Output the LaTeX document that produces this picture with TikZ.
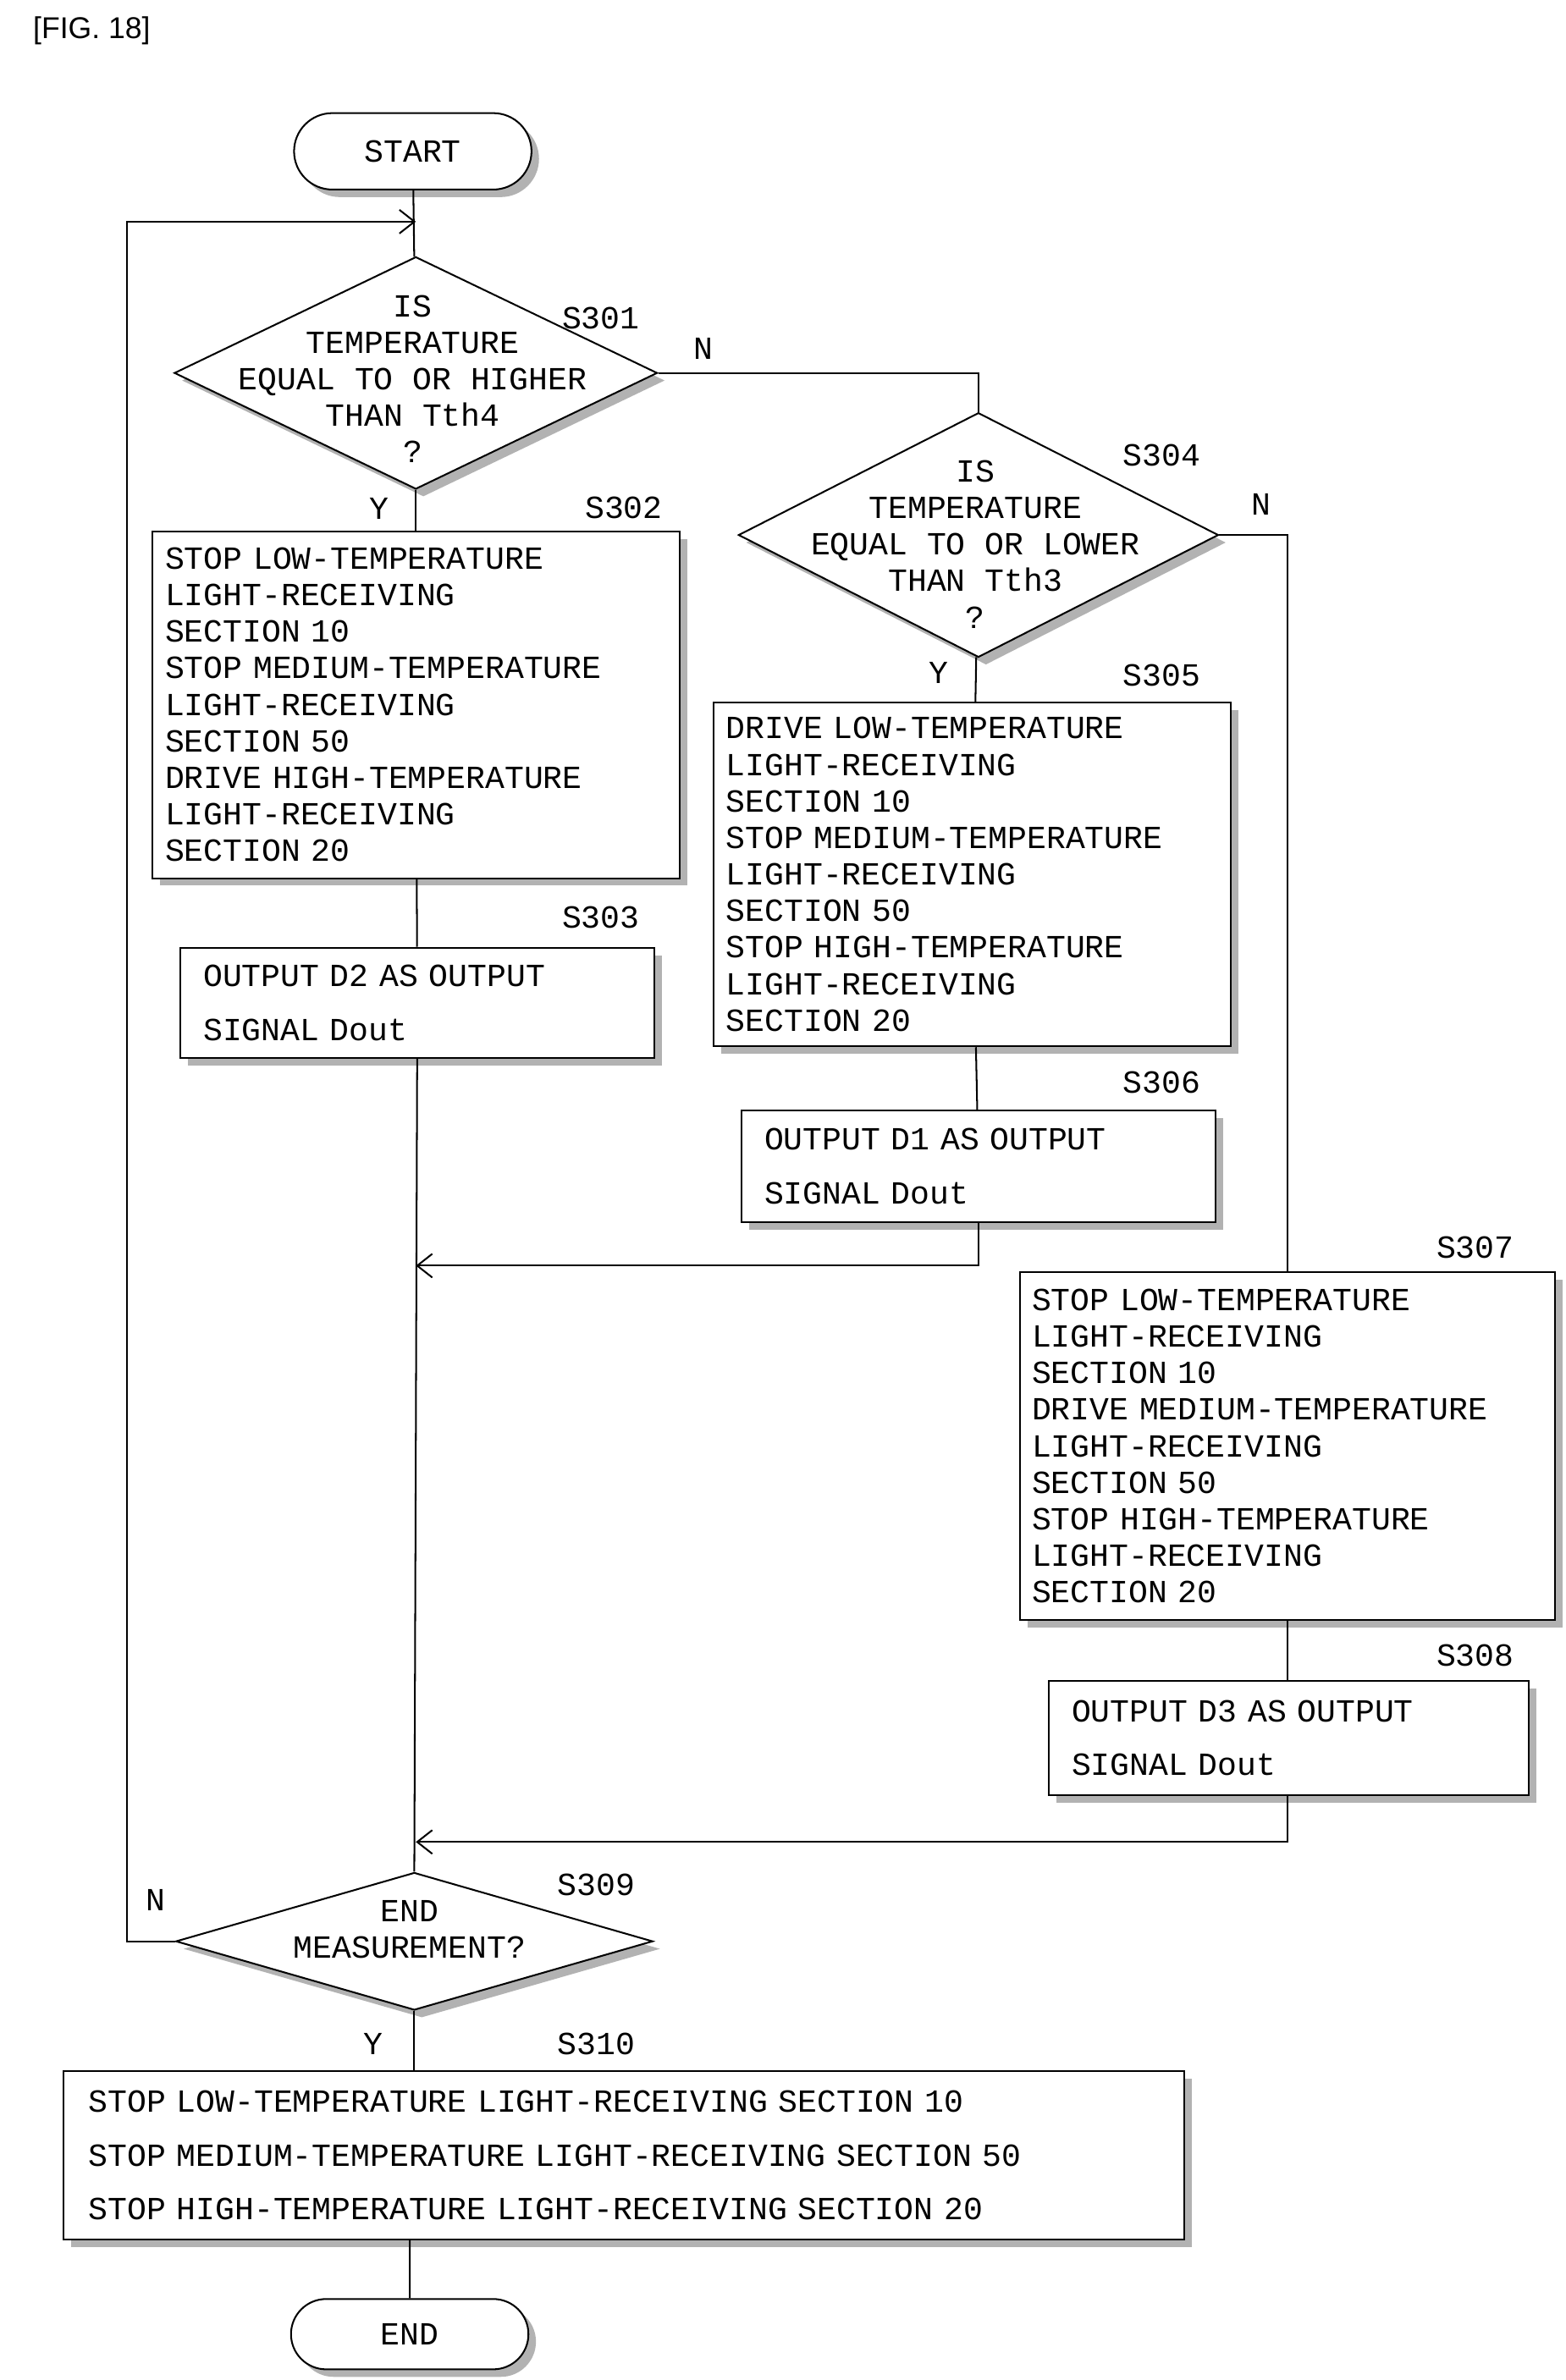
\documentclass[tikz,border=0pt]{standalone}
\usepackage{fontspec}
\setmainfont{Liberation Sans}
\setmonofont{Liberation Mono}
\usetikzlibrary{shapes.geometric,shapes.misc,arrows.meta,shadows}

\tikzset{
  flow/.style={draw,line width=1.6pt},
  box/.style={flow,fill=white,inner sep=8pt,align=left,
    font=\fontsize{30}{34}\selectfont\ttfamily,
    drop shadow={shadow xshift=7pt,shadow yshift=-7pt,fill=gray!60,opacity=1}},
  obox/.style={box,font=\fontsize{30}{50}\selectfont\ttfamily,inner sep=16pt},
  term/.style={flow,fill=white,rounded rectangle,font=\fontsize{30}{34}\selectfont\ttfamily,
    drop shadow={shadow xshift=7pt,shadow yshift=-7pt,fill=gray!60,opacity=1}},
  dec/.style={flow,fill=white,diamond,inner sep=0pt,
    drop shadow={shadow xshift=7pt,shadow yshift=-7pt,fill=gray!60,opacity=1}},
  dtext/.style={align=center,font=\fontsize{30}{34}\selectfont\ttfamily},
  stepno/.style={font=\fontsize{30}{34}\selectfont\ttfamily},
  arr/.style={flow,-{Straight Barb[length=14pt,width=22pt,line width=1.6pt]}}
}

\begin{document}
\begin{tikzpicture}[x=0.05cm,y=-0.05cm]
  \useasboundingbox (0,0) rectangle (1024,1557);
  \node[font=\fontsize{28}{30}\selectfont] at (60,20) {[FIG. 18]};

  % terminals, decisions and processes
  \node[term,minimum width=8cm,minimum height=2.5cm] (start) at (270,99) {START};
  \node[dec,minimum width=15.8cm,minimum height=7.6cm] (s301) at (272,244) {};
  \node[dtext] at (270,248) {IS\\TEMPERATURE\\EQUAL TO OR HIGHER\\THAN Tth4\\?};
  \node[box,minimum width=17.25cm,minimum height=11.35cm,text width=16.4cm] (s302) at (272,461)
    {STOP LOW-TEMPERATURE\\LIGHT-RECEIVING\\SECTION 10\\STOP MEDIUM-TEMPERATURE\\LIGHT-RECEIVING\\SECTION 50\\DRIVE HIGH-TEMPERATURE\\LIGHT-RECEIVING\\SECTION 20};
  \node[obox,minimum width=15.5cm,minimum height=3.6cm,text width=14cm] (s303) at (273,656)
    {OUTPUT D2 AS OUTPUT\\SIGNAL Dout};
  \node[dec,minimum width=15.7cm,minimum height=8cm] (s304) at (640,350) {};
  \node[dtext] at (638,356) {IS\\TEMPERATURE\\EQUAL TO OR LOWER\\THAN Tth3\\?};
  \node[box,minimum width=16.9cm,minimum height=11.25cm,text width=16.1cm] (s305) at (636,572)
    {DRIVE LOW-TEMPERATURE\\LIGHT-RECEIVING\\SECTION 10\\STOP MEDIUM-TEMPERATURE\\LIGHT-RECEIVING\\SECTION 50\\STOP HIGH-TEMPERATURE\\LIGHT-RECEIVING\\SECTION 20};
  \node[obox,minimum width=15.5cm,minimum height=3.65cm,text width=14cm] (s306) at (640,763)
    {OUTPUT D1 AS OUTPUT\\SIGNAL Dout};
  \node[box,minimum width=17.5cm,minimum height=11.4cm,text width=16.7cm] (s307) at (842,946)
    {STOP LOW-TEMPERATURE\\LIGHT-RECEIVING\\SECTION 10\\DRIVE MEDIUM-TEMPERATURE\\LIGHT-RECEIVING\\SECTION 50\\STOP HIGH-TEMPERATURE\\LIGHT-RECEIVING\\SECTION 20};
  \node[obox,minimum width=15.7cm,minimum height=3.75cm,text width=14.2cm] (s308) at (843,1137)
    {OUTPUT D3 AS OUTPUT\\SIGNAL Dout};
  \node[dec,minimum width=15.6cm,minimum height=4.5cm] (s309) at (271,1270) {};
  \node[dtext] at (268,1262) {END\\MEASUREMENT?};
  \node[obox,minimum width=36.65cm,minimum height=5.5cm,text width=35cm,inner sep=10pt] (s310) at (408,1410)
    {STOP LOW-TEMPERATURE LIGHT-RECEIVING SECTION 10\\STOP MEDIUM-TEMPERATURE LIGHT-RECEIVING SECTION 50\\STOP HIGH-TEMPERATURE LIGHT-RECEIVING SECTION 20};
  \node[term,minimum width=8cm,minimum height=2.3cm] (end) at (268,1527) {END};

  % step numbers and branch labels
  \node[stepno] at (393,208) {S301};
  \node[stepno] at (408,332) {S302};
  \node[stepno] at (393,600) {S303};
  \node[stepno] at (760,298) {S304};
  \node[stepno] at (760,442) {S305};
  \node[stepno] at (760,708) {S306};
  \node[stepno] at (965,816) {S307};
  \node[stepno] at (965,1083) {S308};
  \node[stepno] at (390,1233) {S309};
  \node[stepno] at (390,1337) {S310};
  \node[stepno] at (248,333) {Y};
  \node[stepno] at (614,440) {Y};
  \node[stepno] at (244,1337) {Y};
  \node[stepno] at (460,228) {N};
  \node[stepno] at (825,330) {N};
  \node[stepno] at (102,1243) {N};

  % connectors
  \coordinate (loop) at (272,145);
  \coordinate (join1) at (272,828);
  \coordinate (join2) at (272,1205);
  \draw[flow] (start) -- (s301);
  \draw[flow] (s301) -- (s302);
  \draw[flow] (s302) -- (s303);
  \draw[flow] (s303) -- (s309.north);
  \draw[flow] (s301.east) -| (s304.north);
  \draw[flow] (s304) -- (s305);
  \draw[flow] (s305) -- (s306);
  \draw[flow] (s304.east) -| (s307.north);
  \draw[flow] (s307.south) -- (s308.north -| s307.south);
  \draw[arr] (s306.south) |- (join1);
  \draw[arr] (s308.south -| s307.south) |- (join2);
  \draw[arr] (s309.west) -| (83,145) -- (loop);
  \draw[flow] (s309) -- (s310.north -| s309);
  \draw[flow] (s310.south -| end) -- (end);
\end{tikzpicture}
\end{document}
